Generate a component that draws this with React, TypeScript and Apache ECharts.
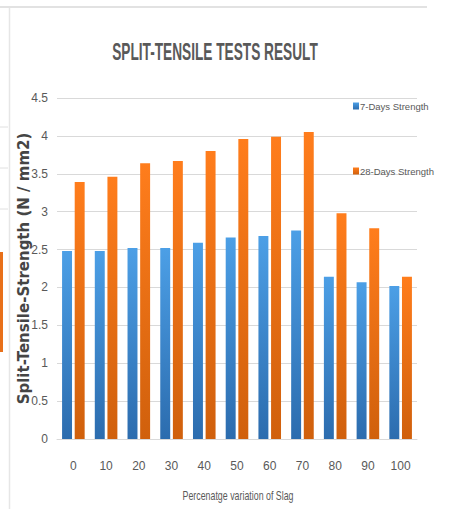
import React, { useEffect, useRef } from "react";
import * as echarts from "echarts";

const categories = ["0", "10", "20", "30", "40", "50", "60", "70", "80", "90", "100"];
const days7 = [2.48, 2.48, 2.52, 2.52, 2.59, 2.66, 2.68, 2.75, 2.14, 2.07, 2.02];
const days28 = [3.39, 3.46, 3.64, 3.67, 3.8, 3.96, 3.99, 4.05, 2.98, 2.78, 2.14];
const seriesNames = ["7-Days Strength", "28-Days Strength"];
const titleText = "SPLIT-TENSILE TESTS RESULT";
const xName = "Percenatge variation of Slag";
const yName = "Split-Tensile-Strength (N / mm2)";

const SANS = "'Liberation Sans', Arial, sans-serif";

export default function App() {
  const ref = useRef<HTMLDivElement>(null);
  useEffect(() => {
    if (!ref.current) return;
    const chart = echarts.init(ref.current, undefined, { renderer: "svg" });
    const grad = (top: string, bottom: string) =>
      new echarts.graphic.LinearGradient(0, 0, 0, 1, [
        { offset: 0, color: top },
        { offset: 1, color: bottom },
      ]);
    chart.setOption({
      animation: false,
      backgroundColor: "#ffffff",
      legend: {
        orient: "vertical",
        left: 348,
        top: 96,
        itemGap: 55,
        itemWidth: 6,
        itemHeight: 7,
        icon: "rect",
        textStyle: { fontFamily: SANS, fontSize: 9.5, color: "#595959", padding: [0, 0, 0, -4] },
        data: seriesNames,
      },
      grid: { left: 57, right: 37, top: 98, bottom: 70 },
      xAxis: {
        type: "category",
        data: categories,
        axisLine: { lineStyle: { color: "#d9d9d9" } },
        axisTick: { show: false },
        axisLabel: { fontFamily: SANS, fontSize: 12, color: "#595959", margin: 21 },
      },
      yAxis: {
        type: "value",
        min: 0,
        max: 4.5,
        interval: 0.5,
        name: yName,
        nameLocation: "middle",
        nameGap: 26,
        nameMoveOverlap: false,
        nameTextStyle: {
          fontFamily: "'DejaVu Sans', Verdana, sans-serif",
          fontWeight: "bold",
          fontSize: 15,
          color: "#454545",
        },
        axisLine: { show: false },
        axisTick: { show: false },
        axisLabel: { fontFamily: SANS, fontSize: 12, color: "#595959", margin: 9 },
        splitLine: { lineStyle: { color: "#d9d9d9" } },
      },
      series: [
        {
          name: seriesNames[0],
          type: "bar",
          data: days7,
          barGap: "27%",
          barCategoryGap: "31%",
          itemStyle: { color: grad("#4c9fe6", "#2c6cae") },
        },
        {
          name: seriesNames[1],
          type: "bar",
          data: days28,
          itemStyle: { color: grad("#ff7d1c", "#d0600c") },
        },
      ],
      graphic: [
        { type: "line", shape: { x1: 0, y1: 7, x2: 427, y2: 7 }, style: { stroke: "#e2e2e2", lineWidth: 2 } },
        { type: "line", shape: { x1: 9.5, y1: 8, x2: 9.5, y2: 509 }, style: { stroke: "#e6e6e6", lineWidth: 1.5 } },
        { type: "line", shape: { x1: 0, y1: 127, x2: 8, y2: 127 }, style: { stroke: "#e0e0e0", lineWidth: 1 } },
        { type: "line", shape: { x1: 0, y1: 168, x2: 8, y2: 168 }, style: { stroke: "#e0e0e0", lineWidth: 1 } },
        { type: "line", shape: { x1: 0, y1: 209, x2: 8, y2: 209 }, style: { stroke: "#e0e0e0", lineWidth: 1 } },
        { type: "rect", shape: { x: 0, y: 252, width: 3, height: 100 }, style: { fill: "#e8701a" } },
        {
          type: "text",
          x: 215,
          y: 51,
          scaleX: 0.57,
          style: {
            text: titleText,
            fontFamily: SANS,
            fontWeight: "bold",
            fontSize: 24,
            fill: "#595959",
            textAlign: "center",
            textVerticalAlign: "middle",
          },
        },
        {
          type: "text",
          x: 238,
          y: 495,
          scaleX: 0.68,
          style: {
            text: xName,
            fontFamily: SANS,
            fontSize: 13,
            fill: "#595959",
            textAlign: "center",
            textVerticalAlign: "middle",
          },
        },
      ],
    });
    return () => chart.dispose();
  }, []);
  return (
    <div
      ref={ref}
      style={{ position: "fixed", left: 0, top: 0, width: 454, height: 509 }}
    />
  );
}
